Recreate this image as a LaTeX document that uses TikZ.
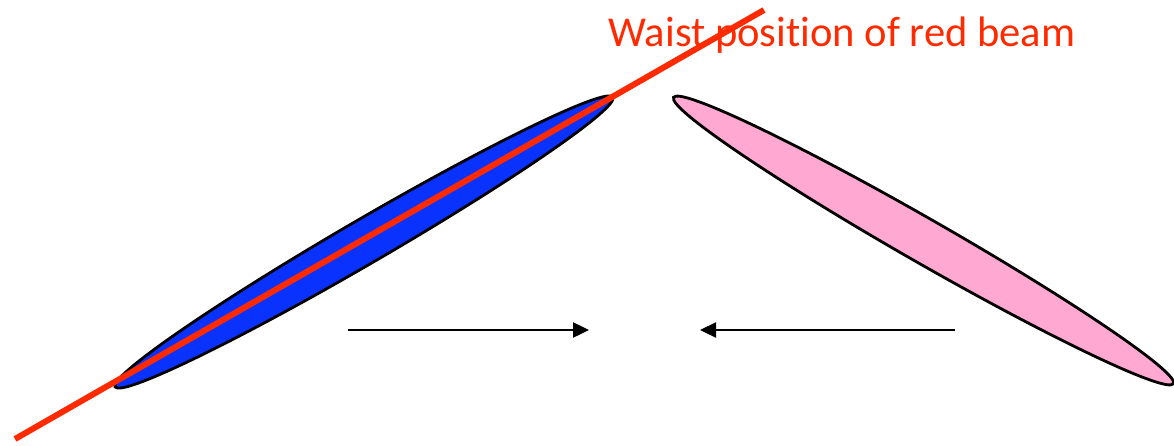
\documentclass[tikz,border=0pt]{standalone}
\usepackage{fontspec}
\setmainfont{Carlito}
\usetikzlibrary{arrows.meta,positioning,shapes.geometric}
\definecolor{beamblue}{HTML}{0A32FF}
\definecolor{beampink}{HTML}{FFA8D2}
\definecolor{waistred}{HTML}{FF2A00}

\begin{document}
\begin{tikzpicture}[x=1pt,y=-1pt,
    bunch/.style={ellipse,draw=black,line width=2.8pt,inner sep=0pt,
                  minimum width=576pt,minimum height=44pt},
    push/.style={draw=black,line width=2.4pt,-{Triangle[length=16pt,width=15pt]}}]
  \useasboundingbox (0,0) rectangle (1174,445);
  \node[bunch,fill=beamblue,rotate=30.2] (blue) at (364,242) {};
  \node[bunch,fill=beampink,rotate=-29.8] (pink) at (923.5,240.5) {};
  % red beam axis
  \coordinate (w1) at (15,439);
  \coordinate (w2) at (764,10);
  \draw[waistred,line width=6pt] (w1) -- (w2);
  \node[text=waistred,font=\fontsize{42.6}{50}\selectfont] (waist) at (842,35) {Waist posit\kern0pt ion of red beam};
  \coordinate (a1) at (348,330);
  \coordinate (a2) at (589,330);
  \coordinate (b1) at (955,330);
  \coordinate (b2) at (700,330);
  \draw[push] (a1) -- (a2);
  \draw[push] (b1) -- (b2);
\end{tikzpicture}
\end{document}
